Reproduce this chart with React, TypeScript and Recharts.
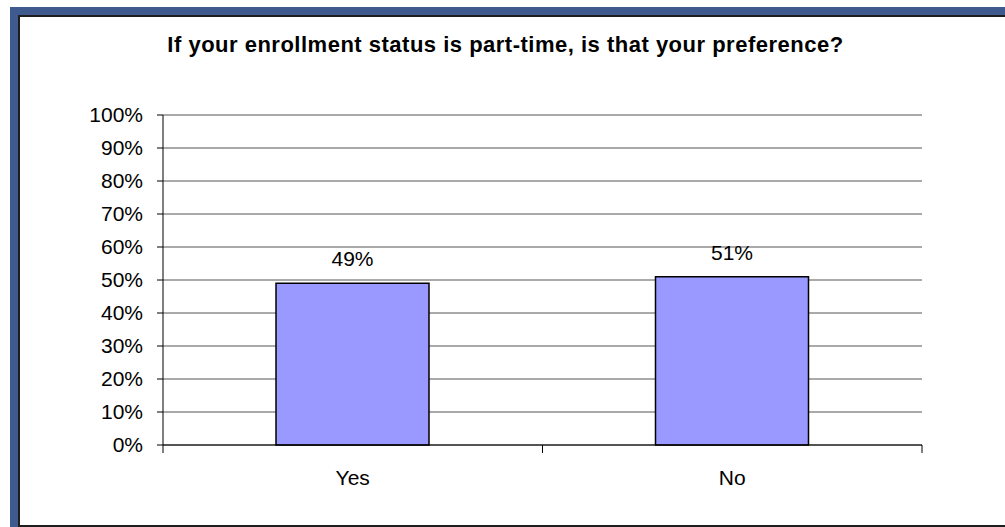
import React from "react";
import { BarChart, Bar, XAxis, YAxis, CartesianGrid, LabelList } from "recharts";

const CATEGORIES = ["Yes", "No"];
const SHARES = [0.49, 0.51];
const Y_TICKS = [0, 0.1, 0.2, 0.3, 0.4, 0.5, 0.6, 0.7, 0.8, 0.9, 1];

const TITLE = "If your enrollment status is part-time, is that your preference?";
const FONT = "Arial, 'Liberation Sans', sans-serif";

const data = CATEGORIES.map((name, i) => ({ name, share: SHARES[i] }));

const pct = (v: number) => `${Math.round(v * 100)}%`;

// category tick: label in the middle, tick marks on the band edges
function CategoryTick(props: any) {
  const { x, y, payload, index } = props;
  const half = payload.offset ?? 0;
  return (
    <g>
      {index === 0 && (
        <line x1={x - half} y1={y - 8} x2={x - half} y2={y} stroke="#000" />
      )}
      <line x1={x + half} y1={y - 8} x2={x + half} y2={y} stroke="#000" />
      <text
        x={x}
        y={y + 24}
        textAnchor="middle"
        dominantBaseline="central"
        fontSize={21}
        fill="#000"
        fontFamily={FONT}
      >
        {payload.value}
      </text>
    </g>
  );
}

export default function App() {
  return (
    <div
      style={{
        position: "absolute",
        left: 0,
        top: 0,
        width: 1005,
        height: 527,
        background: "#fff",
        overflow: "hidden",
        fontFamily: FONT,
      }}
    >
      {/* blue frame */}
      <div
        style={{
          position: "absolute",
          left: 10,
          top: 7,
          width: 1005,
          height: 520,
          background: "#3f5a8e",
        }}
      />
      <div
        style={{
          position: "absolute",
          left: 18,
          top: 15,
          width: 1000,
          height: 508,
          background: "#fff",
          borderLeft: "2px solid #1e1e1e",
          borderTop: "2px solid #1e1e1e",
          borderBottom: "2px solid #1e1e1e",
        }}
      />
      <div
        style={{
          position: "absolute",
          left: 18,
          top: 32,
          width: 975,
          textAlign: "center",
          fontWeight: "bold",
          fontSize: 22,
          letterSpacing: 0.5,
          whiteSpace: "nowrap",
          color: "#000",
        }}
      >
        {TITLE}
      </div>
      <div style={{ position: "absolute", left: 0, top: 0 }}>
        <BarChart
          width={1005}
          height={527}
          data={data}
          margin={{ top: 115, right: 83, bottom: 52, left: 103 }}
        >
          <CartesianGrid vertical={false} stroke="#555" strokeWidth={1} />
          <XAxis
            dataKey="name"
            axisLine={{ stroke: "#000" }}
            tickLine={false}
            tick={<CategoryTick />}
            height={30}
            interval={0}
          />
          <YAxis
            width={60}
            type="number"
            domain={[0, 1]}
            ticks={Y_TICKS}
            interval={0}
            tickFormatter={pct}
            axisLine={{ stroke: "#000" }}
            tickLine={{ stroke: "#000" }}
            tickSize={6}
            tickMargin={14}
            tick={{ fontSize: 21, fill: "#000", fontFamily: FONT }}
          />
          <Bar
            dataKey="share"
            fill="#9999ff"
            stroke="#000"
            strokeWidth={1.5}
            barSize={153}
            isAnimationActive={false}
          >
            <LabelList
              dataKey="share"
              position="top"
              offset={17}
              formatter={(v: any) => pct(Number(v))}
              style={{ fontSize: 21, fill: "#000", fontFamily: FONT }}
            />
          </Bar>
        </BarChart>
      </div>
    </div>
  );
}
